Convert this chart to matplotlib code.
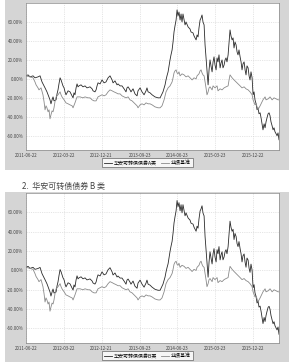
import matplotlib
matplotlib.use("Agg")
import matplotlib.pyplot as plt
import matplotlib.patches as mpatches
import pandas as pd
import numpy as np

plt.rcParams['font.family'] = ['Noto Sans CJK SC', 'DejaVu Sans']

start_date = "2011-06-22"
tick_labels = ["2011-06-22", "2012-03-22", "2012-12-21", "2013-09-23",
               "2014-06-23", "2015-03-23", "2015-12-22"]
y_ticks = [-60, -40, -20, 0, 20, 40, 60]

fund_days = [0, 15, 29, 51, 65, 87, 102, 116, 131, 138, 152, 160, 174, 181, 189, 196, 203, 218, 225, 232,
             239, 247, 254, 261, 268, 276, 283, 290, 305, 319, 334, 341, 348, 355, 363, 370, 377, 384, 399, 413,
             428, 442, 464, 479, 486, 500, 508, 515, 522, 537, 551, 566, 580, 595, 609, 624, 631, 645, 660, 667,
             682, 696, 711, 725, 732, 740, 754, 761, 776, 790, 805, 812, 827, 841, 856, 870, 877, 885, 899, 914,
             935, 957, 972, 986, 993, 1008, 1015, 1022, 1030, 1037, 1044, 1051, 1059, 1066, 1073, 1080, 1088, 1095, 1102, 1109,
             1117, 1124, 1131, 1138, 1146, 1153, 1160, 1175, 1189, 1196, 1211, 1218, 1233, 1240, 1247, 1254, 1262, 1269, 1276, 1283,
             1291, 1298, 1305, 1312, 1320, 1327, 1334, 1341, 1349, 1356, 1363, 1370, 1378, 1385, 1392, 1399, 1407, 1414, 1421, 1428,
             1436, 1443, 1450, 1457, 1465, 1472, 1479, 1486, 1494, 1501, 1508, 1515, 1523, 1530, 1537, 1544, 1552, 1559, 1566, 1573,
             1581, 1588, 1595, 1602, 1610, 1617, 1624, 1631, 1639, 1646, 1653, 1660, 1668, 1675, 1682, 1689, 1697, 1704, 1711, 1718,
             1726, 1733, 1740, 1747, 1755, 1762, 1769, 1776, 1784, 1791, 1798, 1805, 1813, 1820, 1827, 1834]

fund_a = [3.2, 4.2, 2.1, 3.2, 1.1, 2.1, 3.2, -3.2, -7.4, -9.5, -13.7, -16.8, -22.1, -26.3, -22.1, -19.0, -23.2, -22.1, -15.8, -11.6,
          -5.3, 1.1, -1.1, -4.2, -7.4, -9.5, -13.7, -16.8, -12.6, -13.7, -17.9, -20.0, -14.7, -16.8, -9.5, -5.3, -8.4, -7.4, -6.3, -8.4,
          -7.4, -9.5, -8.4, -10.5, -12.6, -13.7, -11.6, -7.4, -4.2, -5.3, -1.1, -4.2, -3.2, 1.1, 3.2, -1.1, -4.2, -2.1, -6.3, -5.3,
          -7.4, -7.4, -10.5, -13.7, -9.5, -8.4, -11.6, -13.7, -10.5, -15.8, -17.9, -12.6, -9.5, -13.7, -16.8, -12.6, -9.5, -13.7, -14.7, -16.8,
          -19.0, -20.0, -20.0, -15.8, -13.7, -6.3, -1.1, 3.2, 7.4, 13.7, 20.0, 25.3, 30.5, 39.0, 49.5, 55.8, 62.1, 72.7, 66.3, 70.5,
          62.1, 68.4, 60.0, 68.4, 62.1, 56.9, 60.0, 54.8, 52.6, 49.5, 48.4, 45.3, 41.1, 46.3, 44.2, 53.7, 62.1, 64.2, 67.4, 60.0,
          56.9, 35.8, 22.1, 9.5, -6.3, 9.5, 20.0, 13.7, 7.4, 17.9, 23.2, 14.7, 9.5, 22.1, 17.9, 25.3, 11.6, 16.8, 20.0, 11.6,
          14.7, 20.0, 22.1, 17.9, 25.3, 38.9, 51.6, 45.3, 41.1, 43.2, 32.6, 38.9, 35.8, 28.4, 25.3, 30.5, 23.2, 17.9, 9.5, 15.8,
          17.9, 9.5, 4.2, 13.7, 11.6, 3.2, -1.1, 7.4, 1.1, -16.8, -13.7, -22.1, -26.3, -32.6, -30.5, -36.8, -35.8, -41.1, -47.4, -53.7,
          -47.4, -51.6, -45.3, -41.1, -36.8, -35.8, -38.9, -45.3, -49.5, -53.7, -51.6, -55.8, -57.9, -60.0, -56.9, -64.2]

fund_b = [3.2, 4.2, 2.1, 3.2, 1.1, 2.0, 3.1, -3.3, -7.5, -9.6, -13.8, -16.9, -22.3, -26.5, -22.3, -19.2, -23.4, -22.3, -16.0, -11.8,
          -5.5, 0.9, -1.3, -4.4, -7.6, -9.7, -13.9, -17.0, -12.8, -13.9, -18.2, -20.3, -15.0, -17.1, -9.8, -5.6, -8.7, -7.7, -6.6, -8.7,
          -7.7, -9.8, -8.8, -10.9, -13.0, -14.1, -12.0, -7.8, -4.6, -5.7, -1.5, -4.6, -3.6, 0.7, 2.8, -1.5, -4.7, -2.6, -6.8, -5.8,
          -7.9, -7.9, -11.0, -14.2, -10.0, -8.9, -12.1, -14.2, -11.0, -16.3, -18.4, -13.1, -10.0, -14.2, -17.3, -13.1, -10.0, -14.2, -15.2, -17.3,
          -19.5, -20.5, -20.5, -16.3, -14.2, -6.8, -1.6, 2.7, 6.9, 13.2, 19.5, 24.8, 30.0, 38.5, 49.0, 55.3, 61.6, 72.2, 65.8, 70.0,
          61.6, 67.9, 59.5, 67.9, 61.6, 56.4, 59.5, 54.2, 52.0, 48.9, 47.8, 44.7, 40.5, 45.7, 43.6, 53.1, 61.5, 63.6, 66.8, 59.4,
          56.3, 35.1, 21.4, 8.8, -7.0, 8.8, 19.3, 13.0, 6.7, 17.2, 22.5, 14.0, 8.8, 21.4, 17.2, 24.6, 10.9, 16.1, 19.3, 10.9,
          14.0, 19.3, 21.4, 17.2, 24.6, 38.2, 50.9, 44.6, 40.4, 42.5, 31.9, 38.2, 35.1, 27.7, 24.6, 29.8, 22.5, 17.2, 8.8, 15.1,
          17.0, 8.6, 3.3, 12.8, 10.7, 2.3, -2.0, 6.5, 0.2, -17.8, -14.7, -23.1, -27.4, -33.7, -31.6, -37.9, -36.9, -42.2, -48.6, -54.9,
          -48.6, -52.8, -46.6, -42.4, -38.1, -37.1, -40.2, -46.6, -50.9, -55.1, -53.0, -57.2, -59.4, -61.5, -58.4, -66.0]

bench_days = [0, 29, 51, 65, 73, 87, 94, 109, 123, 131, 138, 145, 152, 160, 167, 174, 181, 189, 196, 203,
              210, 218, 232, 247, 254, 261, 276, 290, 305, 319, 334, 341, 355, 370, 392, 413, 428, 450, 464, 479,
              493, 508, 522, 537, 551, 566, 580, 595, 609, 624, 638, 653, 667, 682, 696, 711, 725, 740, 754, 769,
              790, 805, 812, 827, 841, 856, 870, 885, 899, 914, 935, 957, 972, 986, 1001, 1015, 1030, 1044, 1059, 1066,
              1073, 1080, 1088, 1095, 1102, 1109, 1117, 1131, 1146, 1160, 1175, 1189, 1204, 1218, 1233, 1240, 1254, 1262, 1269, 1276,
              1283, 1291, 1298, 1305, 1312, 1320, 1327, 1334, 1349, 1356, 1370, 1385, 1392, 1407, 1421, 1436, 1450, 1465, 1472, 1479,
              1494, 1508, 1523, 1537, 1552, 1566, 1581, 1595, 1610, 1624, 1639, 1646, 1660, 1668, 1682, 1689, 1697, 1711, 1718, 1733,
              1740, 1755, 1769, 1784, 1798, 1813, 1827, 1834]

bench = [3.2, 2.1, 1.1, -3.2, -6.3, -9.5, -11.6, -9.5, -16.8, -24.2, -32.6, -28.4, -30.5, -34.7, -32.6, -42.1, -37.9, -33.7, -34.7, -30.5,
         -24.2, -19.0, -16.8, -13.7, -16.8, -19.0, -22.1, -25.3, -26.3, -27.4, -28.4, -30.5, -25.3, -19.0, -19.0, -20.0, -19.0, -20.0, -20.0, -22.1,
         -23.2, -23.2, -19.0, -17.9, -16.8, -17.9, -16.8, -13.7, -11.6, -12.6, -13.7, -14.7, -15.8, -15.8, -17.9, -19.0, -20.0, -19.0, -22.1, -23.2,
         -26.3, -28.4, -30.5, -27.4, -26.3, -27.4, -25.3, -26.3, -26.3, -27.4, -29.5, -30.5, -30.5, -28.4, -22.1, -13.7, -9.5, -7.4, -3.2, 1.1,
         6.3, 8.4, 9.5, 6.3, 5.3, 7.4, 3.2, 5.3, 4.2, 2.1, 3.2, 1.1, -1.1, 1.1, 0.0, 3.2, 5.3, 8.4, 9.5, 6.3,
         4.2, 3.2, -3.2, -9.5, -16.8, -13.7, -9.5, -8.4, -11.6, -7.4, -9.5, -7.4, -12.6, -10.5, -11.6, -9.5, -8.4, -7.4, -1.1, 4.2,
         1.1, -1.1, -3.2, -5.3, -7.4, -9.5, -8.4, -10.5, -11.6, -13.7, -16.8, -22.1, -27.4, -26.3, -32.6, -30.5, -28.4, -24.2, -22.1, -19.0,
         -22.1, -21.1, -19.0, -22.1, -20.0, -21.1, -22.1, -22.1]

legend_a = ["华安可转债债券A类", "业绩基准"]
legend_b = ["华安可转债债券B类", "业绩基准"]
title_b = "2.  华安可转债债券 B 类"

W, H = 300, 363
fig = plt.figure(figsize=(W / 100, H / 100), dpi=100)
fig.patch.set_facecolor("white")

base = pd.Timestamp(start_date)
fx = base + pd.to_timedelta(fund_days, unit="D")
bx = base + pd.to_timedelta(bench_days, unit="D")
tick_pos = pd.to_datetime(tick_labels)


def px_rect(x0, y0, x1, y1):
    return [x0 / W, 1 - y1 / H, (x1 - x0) / W, (y1 - y0) / H]


def panel(ax_rect, bg_rect, fund, labels):
    bg = mpatches.Rectangle((bg_rect[0], bg_rect[1]), bg_rect[2], bg_rect[3],
                            transform=fig.transFigure, facecolor="#d5d5d5",
                            edgecolor="none", zorder=-5)
    fig.patches.append(bg)
    ax = fig.add_axes(ax_rect)
    ax.set_zorder(2)
    ax.set_facecolor("white")
    l1, = ax.plot(fx, fund, color="#2a2a2a", lw=0.6)
    l2, = ax.plot(bx, bench, color="#8a8a8a", lw=0.6)
    ax.set_xlim(base, base + pd.Timedelta(days=1834))
    ax.set_ylim(-75, 80)
    ax.set_yticks(y_ticks)
    ax.set_yticklabels([f"{v:.2f}%" for v in y_ticks])
    ax.set_xticks(tick_pos)
    ax.set_xticklabels(tick_labels)
    ax.tick_params(axis="both", labelsize=3.2, length=0, pad=2, colors="#444444")
    ax.grid(True, color="#d0d0d0", linestyle=(0, (2, 2)), lw=0.4)
    for s in ax.spines.values():
        s.set_color("#888888")
        s.set_linewidth(0.5)
    leg = ax.legend([l1, l2], labels, loc="upper center", bbox_to_anchor=(0.48, -0.055),
                    ncol=2, fontsize=3.6, frameon=True, fancybox=False,
                    handlelength=1.6, handletextpad=0.4, columnspacing=0.8,
                    borderpad=0.35, borderaxespad=0)
    leg.get_frame().set_edgecolor("#444444")
    leg.get_frame().set_linewidth(0.5)
    return ax


panel(px_rect(26, 3, 279, 150), px_rect(5, 0, 289, 170), fund_a, legend_a)
panel(px_rect(26, 193, 279, 343), px_rect(5, 192, 289, 362), fund_b, legend_b)

fig.text(22 / W, 1 - 186 / H, title_b, fontsize=5.8, color="#444444", va="center", ha="left")

fig.savefig("out.png", dpi=100)
